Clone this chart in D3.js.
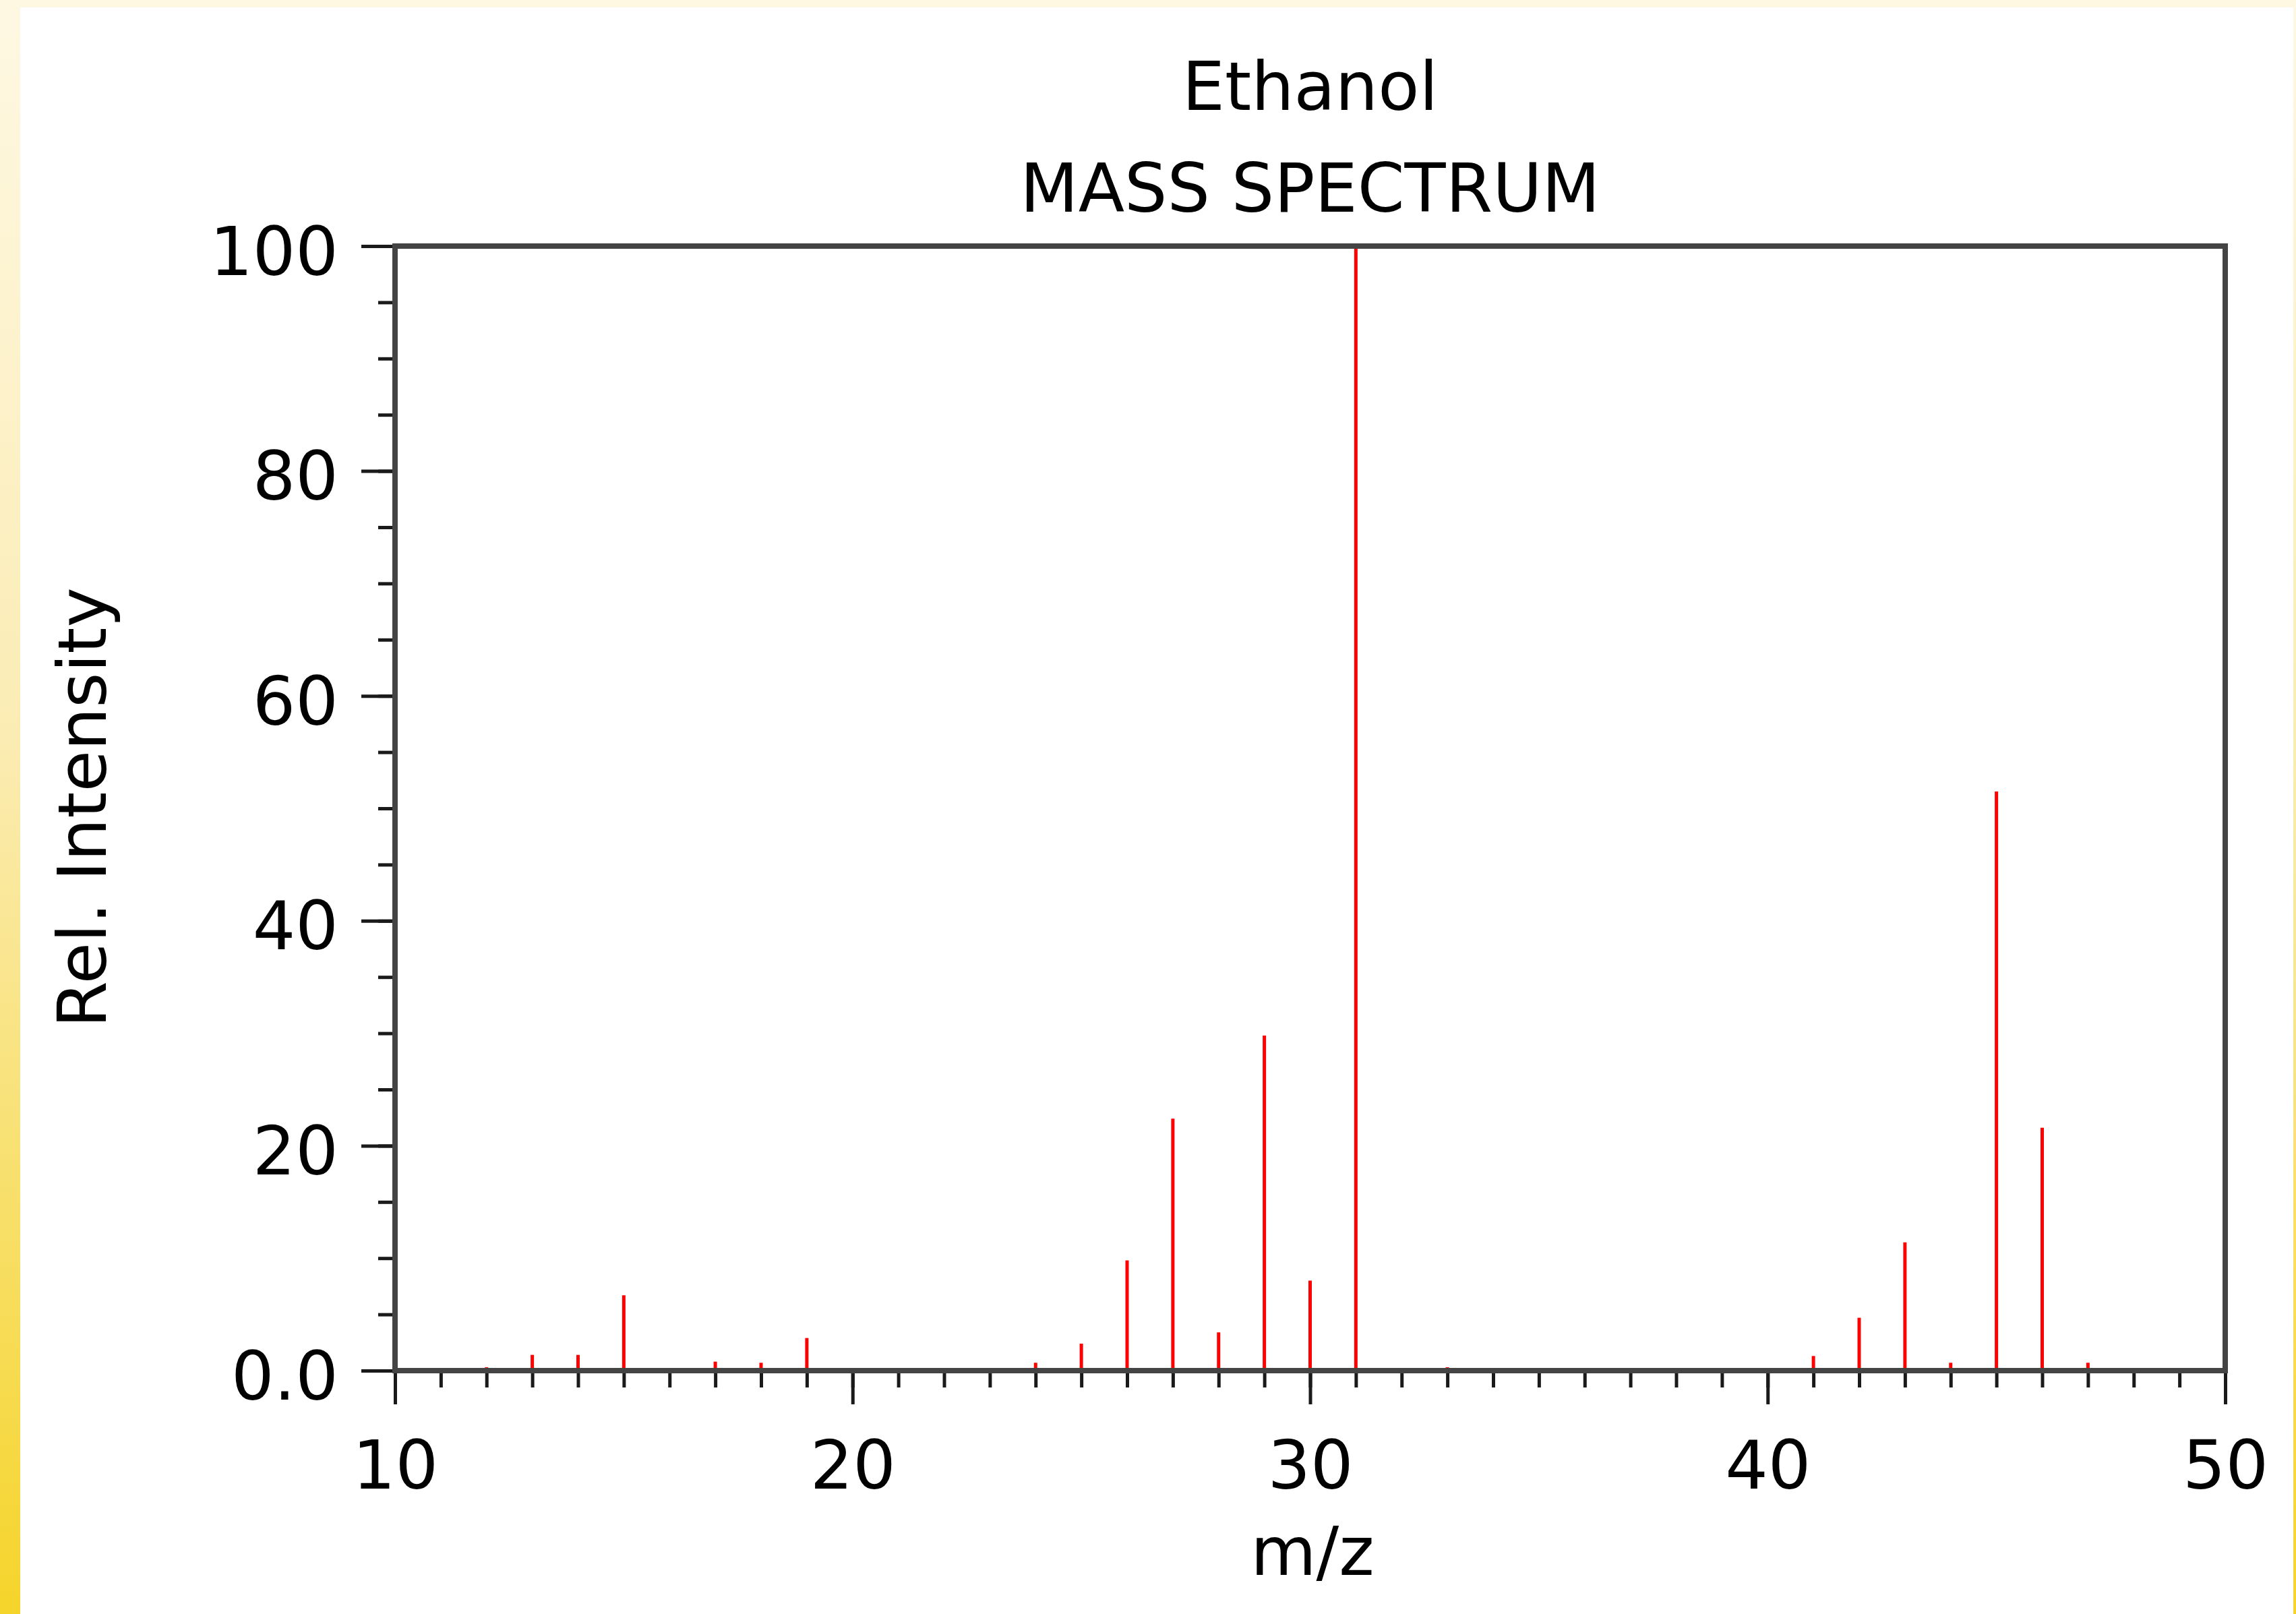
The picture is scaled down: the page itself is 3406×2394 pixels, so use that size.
<!DOCTYPE html>
<html>
<head>
<meta charset="utf-8">
<script src="https://cdn.jsdelivr.net/npm/d3@7"></script>
<style>
html,body{margin:0;padding:0;}
svg{display:block;}
text{font-family:"DejaVu Sans",sans-serif;fill:#000;}
</style>
</head>
<body>
<svg id="chart"></svg>
<script>
var svgWidth=3406;
var svgHeight=2394;

// peaks (m/z, relative intensity)
var mzValues=[12,13,14,15,17,18,19,24,25,26,27,28,29,30,31,33,41,42,43,44,45,46,47];
var intensities=[0.3,1.4,1.4,6.7,0.8,0.7,2.9,0.7,2.4,9.8,22.4,3.4,29.8,8.0,100,0.3,1.3,4.7,11.4,0.7,51.5,21.6,0.7];
var xTickValues=[10,20,30,40,50];
var yTickValues=[0,20,40,60,80,100];
var yTickLabels=["0.0","20","40","60","80","100"];

var plotLeft=586, plotRight=3301, plotTop=365, plotBottom=2033;

var svg=d3.select("#chart")
    .attr("width",svgWidth)
    .attr("height",svgHeight);

// yellow backdrop
var grad=svg.append("defs").append("linearGradient")
    .attr("id","bg").attr("x1",0).attr("y1",0).attr("x2",0).attr("y2",1);
grad.append("stop").attr("offset","0").attr("stop-color","#fef8e3");
grad.append("stop").attr("offset","0.45").attr("stop-color","#fbecb4");
grad.append("stop").attr("offset","1").attr("stop-color","#f5d42a");

svg.append("rect")
    .attr("width",svgWidth).attr("height",svgHeight)
    .attr("fill","url(#bg)");
svg.append("rect")
    .attr("x",30).attr("y",11)
    .attr("width",3372).attr("height",svgHeight-11)
    .attr("fill","#fff");

var xScale=d3.scaleLinear().domain([10,50]).range([plotLeft,plotRight]);
var yScale=d3.scaleLinear().domain([0,100]).range([plotBottom,plotTop]);

// minor ticks
svg.append("g")
    .attr("transform","translate(0,"+plotBottom+")")
    .call(d3.axisBottom(xScale).tickValues(d3.range(10,51,1)).tickSize(25).tickFormat(""))
    .call(function(g){g.select(".domain").remove();})
    .selectAll("line").attr("stroke","#1a1a1a").attr("stroke-width",5);

svg.append("g")
    .attr("transform","translate("+plotLeft+",0)")
    .call(d3.axisLeft(yScale).tickValues(d3.range(0,101,5)).tickSize(25).tickFormat(""))
    .call(function(g){g.select(".domain").remove();})
    .selectAll("line").attr("stroke","#1a1a1a").attr("stroke-width",5);

// major ticks + labels
var xAxis=svg.append("g")
    .attr("transform","translate(0,"+plotBottom+")")
    .call(d3.axisBottom(xScale).tickValues(xTickValues).tickSize(50).tickFormat(d3.format("d")));
xAxis.select(".domain").remove();
xAxis.selectAll("line").attr("stroke","#1a1a1a").attr("stroke-width",5);
xAxis.selectAll("text")
    .attr("y",175).attr("dy",null)
    .attr("font-size",100)
    .attr("font-family","DejaVu Sans")
    .attr("fill","#000");

var yAxis=svg.append("g")
    .attr("transform","translate("+plotLeft+",0)")
    .call(d3.axisLeft(yScale).tickValues(yTickValues).tickSize(50).tickPadding(34)
        .tickFormat(function(d,i){return yTickLabels[i];}));
yAxis.select(".domain").remove();
yAxis.selectAll("line").attr("stroke","#1a1a1a").attr("stroke-width",5);
yAxis.selectAll("text")
    .attr("dy","0.42em")
    .attr("font-size",100)
    .attr("font-family","DejaVu Sans")
    .attr("fill","#000");

// peaks
svg.append("g")
    .selectAll("line")
    .data(mzValues)
    .enter()
    .append("line")
    .attr("x1",function(d){return xScale(d);})
    .attr("x2",function(d){return xScale(d);})
    .attr("y1",yScale(0))
    .attr("y2",function(d,i){return yScale(intensities[i]);})
    .attr("stroke","#ff0000")
    .attr("stroke-width",5);

// frame
svg.append("rect")
    .attr("x",plotLeft).attr("y",plotTop)
    .attr("width",plotRight-plotLeft).attr("height",plotBottom-plotTop)
    .attr("fill","none")
    .attr("stroke","#444")
    .attr("stroke-width",8);

// titles
var cx=(plotLeft+plotRight)/2;
svg.append("text")
    .attr("x",cx).attr("y",163)
    .attr("text-anchor","middle")
    .attr("font-size",100)
    .text("Ethanol");
svg.append("text")
    .attr("x",cx).attr("y",314)
    .attr("text-anchor","middle")
    .attr("font-size",100)
    .text("MASS SPECTRUM");
svg.append("text")
    .attr("x",1947).attr("y",2336)
    .attr("text-anchor","middle")
    .attr("font-size",100)
    .text("m/z");
svg.append("text")
    .attr("transform","translate(157,1198) rotate(-90)")
    .attr("text-anchor","middle")
    .attr("font-size",100)
    .text("Rel. Intensity");
</script>
</body>
</html>
